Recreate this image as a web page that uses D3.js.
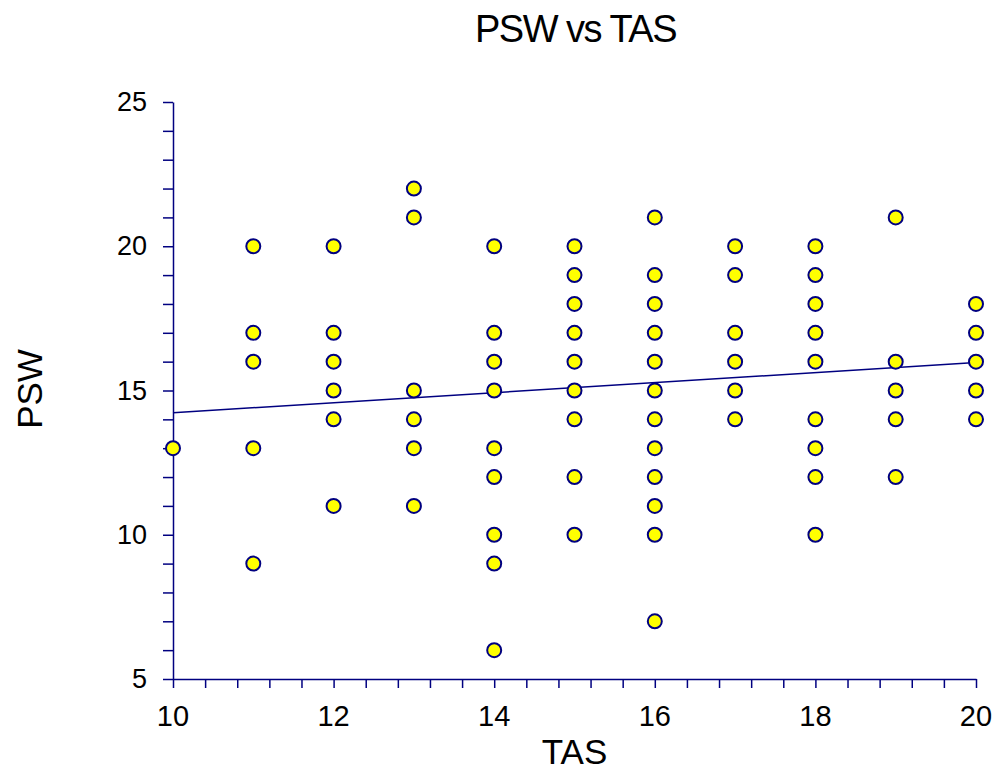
<!DOCTYPE html>
<html>
<head>
<meta charset="utf-8">
<script src="https://cdn.jsdelivr.net/npm/d3@7"></script>
<style>
  body { margin: 0; background: #fff; }
  text { font-family: Arial, "Liberation Sans", sans-serif; fill: #000; }
</style>
</head>
<body>
<svg id="chart"></svg>
<script>
// 数据：每个 TAS 值对应的 PSW 取值
const tasValues = [10, 11, 12, 13, 14, 15, 16, 17, 18, 19, 20];
const pswByTas = [
  [13],
  [20, 17, 16, 13, 9],
  [20, 17, 16, 15, 14, 11],
  [22, 21, 15, 14, 13, 11],
  [20, 17, 16, 15, 13, 12, 10, 9, 6],
  [20, 19, 18, 17, 16, 15, 14, 12, 10],
  [21, 19, 18, 17, 16, 15, 14, 13, 12, 11, 10, 7],
  [20, 19, 17, 16, 15, 14],
  [20, 19, 18, 17, 16, 14, 13, 12, 10],
  [21, 16, 15, 14, 12],
  [18, 17, 16, 15, 14]
];
// 回归线两端
const fitX = [10, 20];
const fitY = [14.23, 15.97];

const xTicks = [10, 12, 14, 16, 18, 20];
const yTicks = [5, 10, 15, 20, 25];

const width = 995, height = 770;
const margin = { top: 102, right: 19, bottom: 91, left: 173 };

const svg = d3.select("#chart")
  .attr("width", width)
  .attr("height", height);

const x = d3.scaleLinear().domain([10, 20]).range([margin.left, width - margin.right]);
const y = d3.scaleLinear().domain([5, 25]).range([height - margin.bottom, margin.top]);

const axisColor = "#000080";

// 次刻度
const xMinor = d3.range(10, 20.001, 0.4);
const yMinor = d3.range(5, 25.001, 1);

const xAxis = svg.append("g")
  .attr("transform", `translate(0,${y(5)})`)
  .call(d3.axisBottom(x).tickValues(xMinor).tickSize(9).tickFormat("").tickSizeOuter(0));
const yAxis = svg.append("g")
  .attr("transform", `translate(${x(10)},0)`)
  .call(d3.axisLeft(y).tickValues(yMinor).tickSize(10).tickFormat("").tickSizeOuter(0));

[xAxis, yAxis].forEach(a => {
  a.selectAll("path, line").attr("stroke", axisColor).attr("stroke-width", 1.5);
});

// 刻度标签
svg.append("g").selectAll("text")
  .data(xTicks)
  .enter().append("text")
  .attr("x", d => x(d))
  .attr("y", y(5) + 47)
  .attr("text-anchor", "middle")
  .style("font-size", "29px")
  .text(d => d);

svg.append("g").selectAll("text")
  .data(yTicks)
  .enter().append("text")
  .attr("x", x(10) - 26)
  .attr("y", d => y(d) + 9)
  .attr("text-anchor", "end")
  .style("font-size", "27px")
  .text(d => d);

// 标题和坐标轴标题
svg.append("text")
  .attr("x", (x(10) + x(20)) / 2 + 1)
  .attr("y", 42)
  .attr("text-anchor", "middle")
  .style("font-size", "38px")
  .style("letter-spacing", "-1.5px")
  .text("PSW vs TAS");

svg.append("text")
  .attr("x", (x(10) + x(20)) / 2)
  .attr("y", 764)
  .attr("text-anchor", "middle")
  .style("font-size", "35px")
  .text("TAS");

svg.append("text")
  .attr("transform", `translate(42,389) rotate(-90)`)
  .attr("text-anchor", "middle")
  .style("font-size", "35px")
  .text("PSW");

// 回归线
const line = d3.line().x(d => x(d[0])).y(d => y(d[1]));
svg.append("path")
  .datum(fitX.map((v, i) => [v, fitY[i]]))
  .attr("d", line)
  .attr("fill", "none")
  .attr("stroke", axisColor)
  .attr("stroke-width", 1.5);

// 散点
const points = tasValues.flatMap((t, i) => pswByTas[i].map(p => ({ tas: t, psw: p })));
svg.append("g").selectAll("circle")
  .data(points)
  .enter().append("circle")
  .attr("cx", d => x(d.tas))
  .attr("cy", d => y(d.psw))
  .attr("r", 7)
  .attr("fill", "#ffff00")
  .attr("stroke", axisColor)
  .attr("stroke-width", 2);
</script>
</body>
</html>
